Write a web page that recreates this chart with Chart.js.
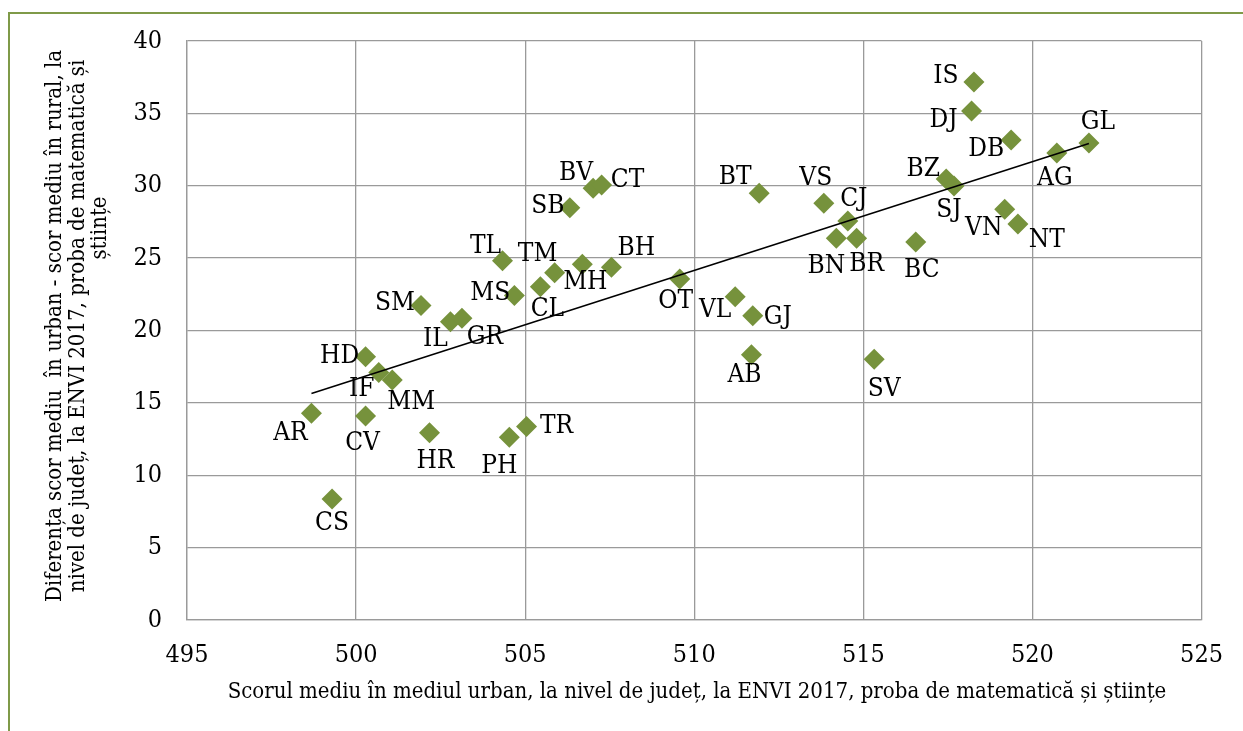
<!DOCTYPE html>
<html lang="ro">
<head>
<meta charset="utf-8">
<title>Diferența scor mediu urban - rural, ENVI 2017</title>
<script src="https://cdn.jsdelivr.net/npm/chart.js@4"></script>
<style>
  html, body { margin: 0; padding: 0; background: #fff; overflow: hidden; }
  #wrap { position: relative; width: 1243px; height: 731px; }
  #frame { position: absolute; left: 8px; top: 12px; width: 1400px; height: 900px;
           border-left: 2px solid #7f9a48; border-top: 2px solid #7f9a48; pointer-events: none; }
  canvas { position: absolute; left: 0; top: 0; }
</style>
</head>
<body>
<div id="wrap">
  <canvas id="c" width="1243" height="731"></canvas>
  <div id="frame"></div>
</div>
<script>
// County codes
const counties = ['IS','DJ','DB','GL','AG','BZ','SJ','VN','NT','BC',
                  'BT','VS','CJ','BN','BR','VL','GJ','AB','SV','OT',
                  'BV','CT','SB','TL','TM','MH','BH','CL','MS','SM',
                  'IL','GR','HD','IF','MM','AR','CV','HR','PH','TR','CS'];
// Mean urban score per county (ENVI 2017, math & science)
const urbanScore = [518.27, 518.20, 519.37, 521.67, 520.72, 517.45, 517.68, 519.18, 519.57, 516.55,
                    511.92, 513.83, 514.54, 514.20, 514.80, 511.21, 511.73, 511.69, 515.32, 509.57,
                    507.01, 507.26, 506.32, 504.33, 505.87, 506.69, 507.55, 505.45, 504.68, 501.92,
                    502.79, 503.13, 500.28, 500.67, 501.07, 498.68, 500.28, 502.17, 504.53, 505.04, 499.29];
// Urban minus rural mean score
const scoreGap = [37.17, 35.16, 33.16, 32.95, 32.26, 30.47, 29.98, 28.37, 27.36, 26.11,
                  29.48, 28.79, 27.56, 26.37, 26.37, 22.34, 21.02, 18.33, 18.01, 23.56,
                  29.82, 30.05, 28.48, 24.82, 23.99, 24.57, 24.37, 23.03, 22.41, 21.72,
                  20.61, 20.84, 18.19, 17.09, 16.58, 14.28, 14.09, 12.94, 12.62, 13.36, 8.36];
// Axis ranges and tick step
const xRange = [495, 525];
const yRange = [0, 40];
const tickStep = 5;

const xTitle = 'Scorul mediu în mediul urban, la nivel de județ, la ENVI 2017, proba de matematică și științe';
const yTitleLines = ['Diferența scor mediu  în urban - scor mediu în rural, la',
                     'nivel de județ, la ENVI 2017, proba de matematică și',
                     'științe'];

const SERIF = '"DejaVu Serif Condensed", "DejaVu Serif", serif';
const OLIVE = '#76923c';

// Least-squares trend line over the observed x span
function linearTrend(xs, ys) {
  const n = xs.length;
  const mx = xs.reduce((a, b) => a + b, 0) / n;
  const my = ys.reduce((a, b) => a + b, 0) / n;
  let sxy = 0, sxx = 0;
  for (let i = 0; i < n; i++) { sxy += (xs[i] - mx) * (ys[i] - my); sxx += (xs[i] - mx) ** 2; }
  const b = sxy / sxx, a = my - b * mx;
  const x0 = Math.min(...xs), x1 = Math.max(...xs);
  return [{ x: x0, y: a + b * x0 }, { x: x1, y: a + b * x1 }];
}

const points = counties.map((c, i) => ({ x: urbanScore[i], y: scoreGap[i], code: c }));

// Label placement relative to each marker (pixels)
const labelOffset = {
  IS: [-28, -6], DJ: [-28, 9], DB: [-25, 9], GL: [9, -21], AG: [-2, 25],
  BZ: [-23, -10], SJ: [-5, 24], VN: [-21, 19], NT: [29, 16], BC: [6, 28],
  BT: [-24, -16], VS: [-8, -25], CJ: [6, -22], BN: [-10, 28], BR: [10, 26],
  VL: [-20, 14], GJ: [25, 2], AB: [-7, 21], SV: [10, 30], OT: [-4, 22],
  BV: [-17, -15], CT: [26, -5], SB: [-22, -2], TL: [-17, -14], TM: [-17, -18],
  MH: [3, 18], BH: [25, -19], CL: [7, 23], MS: [-24, -2], SM: [-26, -2],
  IL: [-15, 18], GR: [23, 19], HD: [-26, 0], IF: [-17, 17], MM: [19, 22],
  AR: [-21, 20], CV: [-3, 27], HR: [6, 29], PH: [-10, 29], TR: [30, 0], CS: [0, 24]
};

const pointLabels = {
  id: 'pointLabels',
  afterDatasetsDraw(chart) {
    const ctx = chart.ctx;
    const meta = chart.getDatasetMeta(1);
    ctx.save();
    ctx.font = '26px ' + SERIF;
    ctx.fillStyle = '#000';
    ctx.textAlign = 'center';
    ctx.textBaseline = 'middle';
    meta.data.forEach((el, i) => {
      const code = points[i].code;
      const off = labelOffset[code] || [0, 20];
      ctx.fillText(code, el.x + off[0], el.y + off[1]);
    });
    ctx.restore();
  }
};

const axisTitles = {
  id: 'axisTitles',
  afterDraw(chart) {
    const ctx = chart.ctx;
    ctx.save();
    ctx.fillStyle = '#000';
    ctx.font = '22px ' + SERIF;
    ctx.textAlign = 'center';
    ctx.textBaseline = 'middle';
    ctx.fillText(xTitle, 697, 692);
    const pos = [[55, 326], [78, 326], [100, 228]];
    yTitleLines.forEach((line, i) => {
      ctx.save();
      ctx.translate(pos[i][0], pos[i][1]);
      ctx.rotate(-Math.PI / 2);
      ctx.fillText(line, 0, 0);
      ctx.restore();
    });
    ctx.restore();
  }
};

new Chart(document.getElementById('c'), {
  type: 'scatter',
  data: {
    datasets: [
      {
        type: 'line',
        data: linearTrend(urbanScore, scoreGap),
        borderColor: '#000',
        borderWidth: 1.6,
        pointRadius: 0,
        fill: false
      },
      {
        data: points,
        pointStyle: 'rectRot',
        pointRadius: 10.5,
        pointHoverRadius: 10.5,
        backgroundColor: OLIVE,
        borderColor: OLIVE,
        borderWidth: 0
      }
    ]
  },
  options: {
    responsive: false,
    animation: false,
    events: [],
    layout: { padding: { left: 0, top: 41, right: 39, bottom: 0 } },
    plugins: { legend: { display: false }, tooltip: { enabled: false } },
    scales: {
      x: {
        type: 'linear',
        min: xRange[0], max: xRange[1],
        afterFit(s) { s.height = 111; },
        ticks: { stepSize: tickStep, padding: 20, color: '#000', font: { family: SERIF, size: 25 } },
        grid: { color: '#9a9a9a', lineWidth: 1.3, drawTicks: false },
        border: { color: '#9a9a9a', width: 1.3 }
      },
      y: {
        type: 'linear',
        min: yRange[0], max: yRange[1],
        afterFit(s) { s.width = 187; },
        ticks: { stepSize: tickStep, padding: 25, color: '#000', font: { family: SERIF, size: 25 } },
        grid: { color: '#9a9a9a', lineWidth: 1.3, drawTicks: false },
        border: { color: '#9a9a9a', width: 1.3 }
      }
    }
  },
  plugins: [pointLabels, axisTitles]
});
</script>
</body>
</html>
